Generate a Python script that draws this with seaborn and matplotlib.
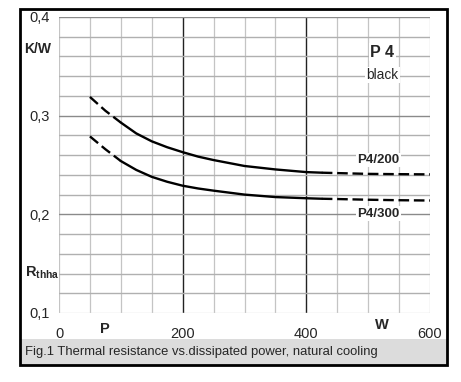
import numpy as np
import pandas as pd
import seaborn as sns
import matplotlib
matplotlib.use("Agg")
import matplotlib.pyplot as plt
from matplotlib.patches import Rectangle

# values
power_w = [50, 75, 100, 125, 150, 175, 200, 225, 250, 275, 300, 350, 400, 425, 450, 500, 550, 600]
r_p4_200 = [0.319, 0.305, 0.293, 0.282, 0.274, 0.268, 0.263, 0.2585, 0.255, 0.252, 0.249,
            0.2455, 0.2428, 0.2422, 0.2418, 0.241, 0.2407, 0.2405]
r_p4_300 = [0.279, 0.266, 0.254, 0.245, 0.238, 0.233, 0.229, 0.2262, 0.224, 0.222, 0.220,
            0.2175, 0.2163, 0.2158, 0.2155, 0.2148, 0.2143, 0.214]
y_ticks = [0.1, 0.2, 0.3, 0.4]
y_tick_labels = ["0,1", "0,2", "0,3", "0,4"]
x_ticks = [0, 200, 400, 600]
x_tick_labels = ["0", "200", "400", "600"]
caption = "Fig.1 Thermal resistance vs.dissipated power, natural cooling"

sns.set_style("white")
plt.rcParams["font.family"] = ["Liberation Sans", "DejaVu Sans"]
plt.rcParams["mathtext.fontset"] = "custom"
plt.rcParams["mathtext.rm"] = "Liberation Sans"
plt.rcParams["mathtext.bf"] = "Liberation Sans:bold"

df = pd.DataFrame({"P": power_w, "P4/200": r_p4_200, "P4/300": r_p4_300})

fig = plt.figure(figsize=(4.61, 3.82), dpi=100)
W, H = 461, 382
ax = fig.add_axes([59 / W, 1 - 313 / H, (430 - 59) / W, (313 - 17) / H])

# outer frame and caption band
fig.patches.append(Rectangle((20 / W, 1 - 365 / H), 427 / W, 26 / H,
                             transform=fig.transFigure, facecolor="#dcdcdc",
                             edgecolor="none", zorder=0))
fig.patches.append(Rectangle((20 / W, 1 - 365 / H), 427 / W, 356 / H,
                             transform=fig.transFigure, facecolor="none",
                             edgecolor="black", linewidth=2, zorder=5))
fig.text(25 / W, 1 - 352 / H, caption, fontsize=9.4, va="center", ha="left")

# grid
for x in range(0, 601, 50):
    c = "#222222" if x in (200, 400) else "#c4c4c4"
    ax.axvline(x, color=c, lw=1.0 if x in (200, 400) else 0.9, zorder=1)
for i in range(0, 16):
    y = 0.1 + i * 0.02
    if i == 0:
        c = "#dddddd"
    elif i % 5 == 0:
        c = "#8a8a8a"
    else:
        c = "#b0b0b0"
    ax.axhline(y, color=c, lw=1.0, zorder=1)

dash = (4.5, 2.0)
for col in ["P4/200", "P4/300"]:
    d1 = df[df["P"] <= 100]
    d2 = df[(df["P"] >= 100) & (df["P"] <= 425)]
    d3 = df[df["P"] >= 425]
    sns.lineplot(data=d1, x="P", y=col, ax=ax, color="black", lw=1.7,
                 zorder=3).lines[-1].set_dashes(dash)
    sns.lineplot(data=d2, x="P", y=col, ax=ax, color="black", lw=1.7, zorder=3)
    sns.lineplot(data=d3, x="P", y=col, ax=ax, color="black", lw=1.7,
                 zorder=3).lines[-1].set_dashes(dash)

ax.set_xlim(0, 600)
ax.set_ylim(0.1, 0.4)
ax.set_yticks(y_ticks)
ax.set_yticklabels(y_tick_labels)
ax.set_xticks(x_ticks)
ax.set_xticklabels(x_tick_labels)
ax.tick_params(axis="y", length=3, width=0.8, pad=4, labelsize=10.5, color="#555555")
ax.tick_params(axis="x", length=0, pad=10, labelsize=10.5)
ax.set_xlabel("")
ax.set_ylabel("")
for s in ax.spines.values():
    s.set_visible(False)

box = dict(facecolor="white", edgecolor="none", pad=1)
ax.text(523, 0.3645, "P 4", fontsize=11.5, fontweight="bold", ha="center",
        va="center", bbox=box, zorder=4)
ax.text(523, 0.3412, "black", fontsize=9.8, ha="center", va="center",
        bbox=box, zorder=4)
ax.text(517, 0.2551, "P4/200", fontsize=9.5, fontweight="bold", ha="center",
        va="center", bbox=box, zorder=4)
ax.text(517, 0.2004, "P4/300", fontsize=9.5, fontweight="bold", ha="center",
        va="center", bbox=box, zorder=4)

ax.text(-0.057, 0.892, "K/W", transform=ax.transAxes, fontsize=10,
        fontweight="bold", ha="center", va="center")
ax.text(-0.045, 0.135, r"$\mathbf{R}_{\mathbf{thha}}$", transform=ax.transAxes,
        fontsize=10.5, ha="center", va="center")
ax.text(0.124, -0.054, "P", transform=ax.transAxes, fontsize=10.5,
        fontweight="bold", ha="center", va="center")
ax.text(0.871, -0.04, "W", transform=ax.transAxes, fontsize=10.5,
        fontweight="bold", ha="center", va="center")

fig.savefig("out.png", dpi=100)
